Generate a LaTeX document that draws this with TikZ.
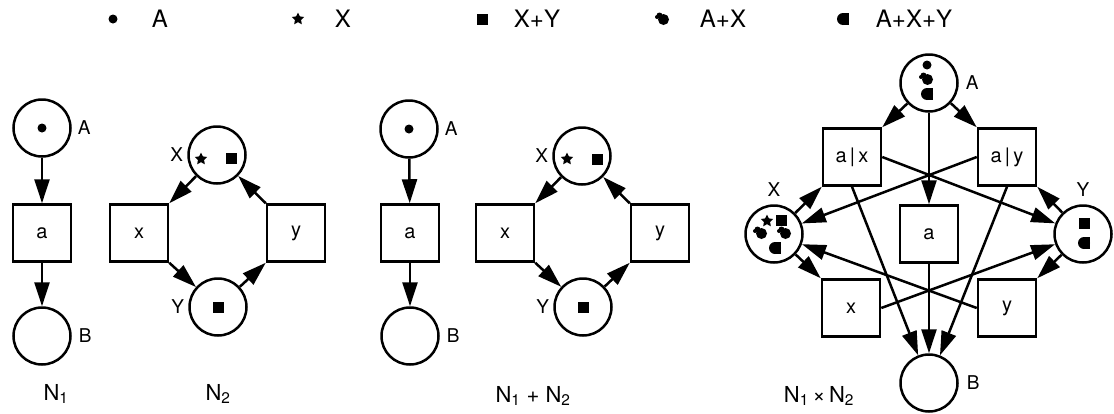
\documentclass[tikz,border=0pt]{standalone}
\usepackage{fontspec}
\setmainfont{TeX Gyre Heros}
\usetikzlibrary{arrows.meta,positioning}

\tikzset{
  place/.style={circle,draw,line width=2.5pt,minimum size=57pt,inner sep=0pt},
  trans/.style={rectangle,draw,line width=2.5pt,minimum width=58pt,minimum height=57pt,
    inner sep=0pt,font=\fontsize{20}{20}\selectfont},
  lbl/.style={inner sep=0pt,font=\fontsize{19}{19}\selectfont},
  netname/.style={inner sep=0pt,anchor=base,font=\fontsize{22}{22}\selectfont},
  legend/.style={inner sep=0pt,font=\fontsize{24}{24}\selectfont},
  flow/.style={line width=2.5pt,-{Triangle[length=24pt,width=15pt]}},
  tokA/.pic={\fill (0,0) circle (4.5);},
  tokX/.pic={\fill (-90:6.5) -- (-54:3.2) -- (-18:6.5) -- (18:3.2) -- (54:6.5) -- (90:3.2)
    -- (126:6.5) -- (162:3.2) -- (198:6.5) -- (234:3.2) -- cycle;},
  tokXY/.pic={\fill (-5.5,-5.5) rectangle (5.5,5.5);},
  tokAX/.pic={\fill (0.5,0.5) circle (5.5); \fill (-3.5,-3.5) circle (3) (-6,-2) circle (2);},
  tokAXY/.pic={\fill (0,0) circle (6); \fill (0,-6) rectangle (6,6);}
}

\begin{document}
\begin{tikzpicture}[x=1pt,y=-1pt]
\useasboundingbox (0,0) rectangle (1114,413);

\pic at (113,19) {tokA};   \node[legend] (kA) at (160,19) {A};
\pic at (298,19) {tokX};   \node[legend] (kX) at (343,19) {X};
\pic at (482,19) {tokXY};  \node[legend] (kXY) at (537,19) {X+Y};
\pic at (663,19) {tokAX};  \node[legend] (kAX) at (723,19) {A+X};
\pic at (843,19) {tokAXY}; \node[legend] (kAXY) at (914,19) {A+X+Y};

\node[place] (A1) at (42,128) {};
\node[trans] (a1) at (42,233) {a};
\node[place] (B1) at (42,336) {};
\node[lbl,right=6pt of A1] (lA1) {A};
\node[lbl,right=7pt of B1] (lB1) {B};
\pic at (A1) {tokA};
\draw[flow] (A1) -- (a1);
\draw[flow] (a1) -- (B1);
\node[netname] (n1) at (56,400) {N\textsubscript{1}};

\node[place] (X2) at (217,155) {};
\node[trans] (x2) at (139,233) {x};
\node[trans] (y2) at (296,233) {y};
\node[place] (Y2) at (218,307) {};
\node[lbl,left=4pt of X2] (lX2) {X};
\node[lbl,left=4pt of Y2] (lY2) {Y};
\pic at (201,159) {tokX};
\pic at (231,158) {tokXY};
\pic at (Y2) {tokXY};
\draw[flow] (X2) -- (x2.north east);
\draw[flow] (x2.south east) -- (Y2);
\draw[flow] (Y2) -- (y2.south west);
\draw[flow] (y2.north west) -- (X2);
\node[netname] (n2) at (218,400) {N\textsubscript{2}};

\node[place] (A3) at (409,129) {};
\node[trans] (a3) at (410,233) {a};
\node[place] (B3) at (410,336) {};
\node[lbl,right=6pt of A3] (lA3) {A};
\node[lbl,right=7pt of B3] (lB3) {B};
\pic at (A3) {tokA};
\draw[flow] (A3) -- (a3);
\draw[flow] (a3) -- (B3);
\node[place] (X3) at (582,156) {};
\node[trans] (x3) at (505,233) {x};
\node[trans] (y3) at (660,233) {y};
\node[place] (Y3) at (583,307) {};
\node[lbl,left=4pt of X3] (lX3) {X};
\node[lbl,left=4pt of Y3] (lY3) {Y};
\pic at (567,159) {tokX};
\pic at (597,159) {tokXY};
\pic at (Y3) {tokXY};
\draw[flow] (X3) -- (x3.north east);
\draw[flow] (x3.south east) -- (Y3);
\draw[flow] (Y3) -- (y3.south west);
\draw[flow] (y3.north west) -- (X3);
\node[netname] (n3) at (533,402) {N\textsubscript{1} + N\textsubscript{2}};

\node[place] (A4) at (929,83) {};
\node[trans] (ax) at (852,157) {a\,|\,x};
\node[trans] (ay) at (1007,157) {a\,|\,y};
\node[trans] (a4) at (929,234) {a};
\node[place] (X4) at (774,234) {};
\node[place] (Y4) at (1083,234) {};
\node[trans] (x4) at (851,308) {x};
\node[trans] (y4) at (1007,308) {y};
\node[place] (B4) at (929,383) {};
\node[lbl,right=7pt of A4] (lA4) {A};
\node[lbl,right=8pt of B4] (lB4) {B};
\node[lbl,above=8pt of X4] (lX4) {X};
\node[lbl,above=8pt of Y4] (lY4) {Y};
\pic at (927,65) {tokA};
\pic at (927,79) {tokAX};
\pic at (927,94) {tokAXY};
\pic at (767,221) {tokX};
\pic at (781,220) {tokXY};
\pic at (761,233) {tokAX};
\pic at (785,233) {tokAX};
\pic at (775,248) {tokAXY};
\pic at (1084,223) {tokXY};
\pic at (1084,243) {tokAXY};
\draw[flow] (A4) -- (ax.north east);
\draw[flow] (A4) -- (ay.north west);
\draw[flow] (A4) -- (a4);
\draw[flow] (X4) -- (ax.south west);
\draw[flow] (ay.west) -- (X4);
\draw[flow] (ax.east) -- (Y4);
\draw[flow] (Y4) -- (ay.south east);
\draw[flow] (X4) -- (x4.north west);
\draw[flow] (y4.west) -- (X4);
\draw[flow] (x4.east) -- (Y4);
\draw[flow] (Y4) -- (y4.north east);
\draw[flow] (ax.south) -- (B4);
\draw[flow] (a4) -- (B4);
\draw[flow] (ay.south) -- (B4);
\node[netname] (n4) at (819,402) {N\textsubscript{1}\,×\,N\textsubscript{2}};
\end{tikzpicture}
\end{document}
